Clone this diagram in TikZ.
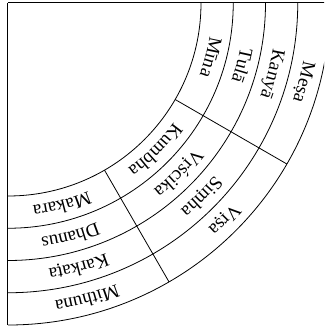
\documentclass[tikz,border=0pt]{standalone}
\usepackage{fontspec}
\setmainfont{Liberation Serif}
\usetikzlibrary{decorations.text}
\newcommand\signfont{\fontsize{19}{22}\selectfont}
\tikzset{
  ring/.style={draw,line width=0.8pt},
  sign/.style={decorate,decoration={text along path,text align=center,
    text={|\signfont|#1}}}}

\begin{document}
\begin{tikzpicture}[x=1pt,y=1pt]
\useasboundingbox (-8,3) rectangle (316,-323);
\clip (-8,3) rectangle (316,-323);
\coordinate (o) at (0,0);
\draw[line width=1pt] (o) -- (0:322);
\draw[line width=1pt] (o) -- (-90:322);
\foreach \r in {193,225.25,257.5,289.75,322}
  \draw[ring] (0:\r) arc[start angle=0,end angle=-90,radius=\r];
\draw[ring] (-30:193) -- (-30:322);
\draw[ring] (-60:193) -- (-60:322);
% first sector
\path[sign={Mīna}] (0:204.5) arc[start angle=0,end angle=-30,radius=204.5];
\path[sign={Tulā}] (0:236.75) arc[start angle=0,end angle=-30,radius=236.75];
\path[sign={Kanyā}] (0:269) arc[start angle=0,end angle=-30,radius=269];
\path[sign={Meṣa}] (0:301.25) arc[start angle=0,end angle=-30,radius=301.25];
% second sector
\path[sign={Kumbha}] (-30:204.5) arc[start angle=-30,end angle=-60,radius=204.5];
\path[sign={Vṛścika}] (-30:236.75) arc[start angle=-30,end angle=-60,radius=236.75];
\path[sign={Siṃha}] (-30:269) arc[start angle=-30,end angle=-60,radius=269];
\path[sign={Vṛṣa}] (-30:301.25) arc[start angle=-30,end angle=-60,radius=301.25];
% third sector
\path[sign={Makara}] (-60:204.5) arc[start angle=-60,end angle=-90,radius=204.5];
\path[sign={Dhanus}] (-60:236.75) arc[start angle=-60,end angle=-90,radius=236.75];
\path[sign={Karkaṭa}] (-60:269) arc[start angle=-60,end angle=-90,radius=269];
\path[sign={Mithuna}] (-60:301.25) arc[start angle=-60,end angle=-90,radius=301.25];
\end{tikzpicture}
\end{document}
